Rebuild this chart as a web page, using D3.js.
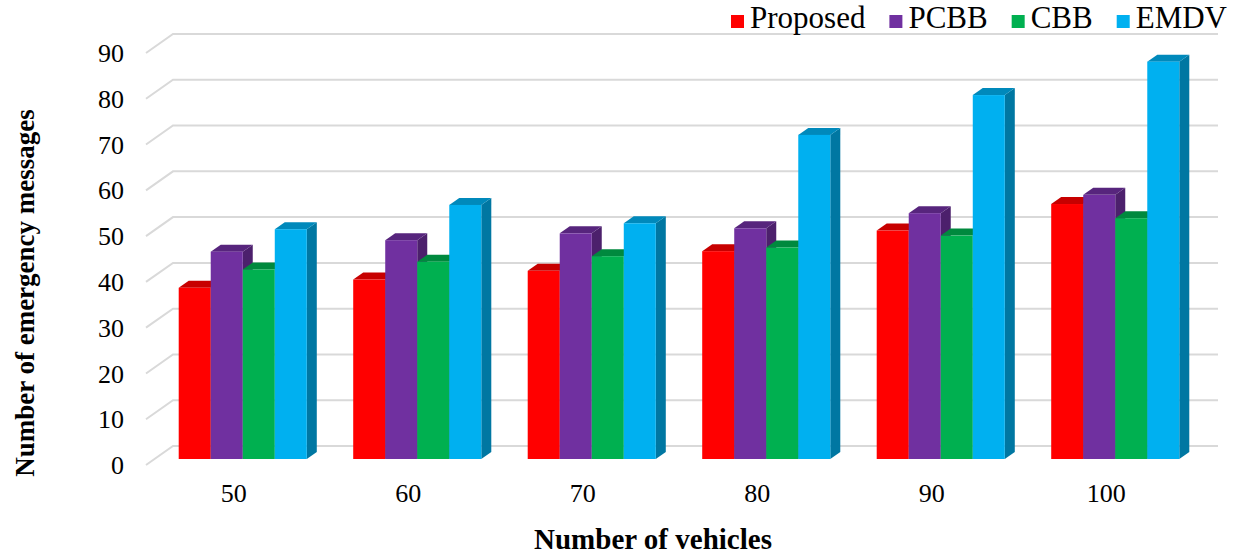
<!DOCTYPE html>
<html lang="en">
<head>
    <meta charset="UTF-8">
    <title>Number of emergency messages</title>
    <style>
        body {
            margin: 0;
            background: #fff;
        }
        svg text {
            font-family: 'Liberation Serif', 'Times New Roman', serif;
            fill: #000;
        }
    </style>
</head>
<body>
    <svg id="chart" width="1238" height="557"></svg>

    <script src="https://d3js.org/d3.v7.min.js"></script>
    <script>
        // data
        const vehicles = ["50", "60", "70", "80", "90", "100"];
        const seriesNames = ["Proposed", "PCBB", "CBB", "EMDV"];
        const proposed = [37.4, 39.2, 41.1, 45.4, 49.9, 55.7];
        const pcbb = [45.3, 47.8, 49.3, 50.4, 53.7, 57.7];
        const cbb = [41.4, 43.1, 44.3, 46.2, 48.8, 52.6];
        const emdv = [50.2, 55.5, 51.5, 70.8, 79.5, 86.8];
        const yTicks = [0, 10, 20, 30, 40, 50, 60, 70, 80, 90];
        const colors = ["#ff0000", "#7030a0", "#00b050", "#00b0f0"];

        const values = [proposed, pcbb, cbb, emdv];

        const svg = d3.select("#chart");

        // depth of the floor (front edge -> back wall) and of each bar
        const floorDx = 27, floorDy = -19;
        const barDx = 10, barDy = -7;
        const backX2 = 1218;

        // y of the bar front faces
        const y = d3.scaleLinear().domain([0, 90]).range([459, 47]);

        const x = d3.scaleBand()
            .domain(vehicles)
            .range([155.5, 1202.5])
            .paddingInner(0.266)
            .paddingOuter(0.133);

        const xs = d3.scaleBand()
            .domain(seriesNames)
            .range([0, x.bandwidth()]);

        // gridlines: short diagonal on the side wall, long line on the back wall
        const grid = svg.append("g");
        yTicks.forEach(t => {
            const yb = y(t) - 13;
            const xf = 146, yf = y(t) + 6;
            grid.append("polyline")
                .attr("points", `${xf},${yf} ${xf + floorDx},${yf + floorDy} ${backX2},${yb}`)
                .attr("fill", "none")
                .attr("stroke", "#d9d9d9")
                .attr("stroke-width", 2);
        });

        // y tick labels
        svg.append("g")
            .selectAll("text")
            .data(yTicks)
            .enter().append("text")
            .attr("x", 124)
            .attr("y", d => y(d) + 6)
            .attr("dy", "0.35em")
            .attr("text-anchor", "end")
            .style("font-size", "26px")
            .text(d => d);

        // x tick labels, on the floor front edge
        svg.append("g")
            .selectAll("text")
            .data(vehicles)
            .enter().append("text")
            .attr("x", d => x(d) + x.bandwidth() / 2 - 9)
            .attr("y", 502)
            .attr("text-anchor", "middle")
            .style("font-size", "26px")
            .text(d => d);

        // bars with top and side faces
        const bars = svg.append("g");
        vehicles.forEach((cat, i) => {
            seriesNames.forEach((name, s) => {
                const v = values[s][i];
                const x0 = x(cat) + xs(name);
                const w = xs.bandwidth();
                const y0 = y(0), y1 = y(v);
                const base = d3.color(colors[s]);
                const g = bars.append("g");
                // side
                g.append("polygon")
                    .attr("points", [
                        [x0 + w, y1], [x0 + w + barDx, y1 + barDy],
                        [x0 + w + barDx, y0 + barDy], [x0 + w, y0]
                    ].join(" "))
                    .attr("fill", base.darker(1.1));
                // top
                g.append("polygon")
                    .attr("points", [
                        [x0, y1], [x0 + barDx, y1 + barDy],
                        [x0 + w + barDx, y1 + barDy], [x0 + w, y1]
                    ].join(" "))
                    .attr("fill", base.darker(0.7));
                // front
                g.append("rect")
                    .attr("x", x0)
                    .attr("y", y1)
                    .attr("width", w)
                    .attr("height", y0 - y1)
                    .attr("fill", colors[s]);
            });
        });

        // axis titles
        svg.append("text")
            .attr("transform", "translate(34,293) rotate(-90)")
            .attr("text-anchor", "middle")
            .style("font-size", "27px")
            .style("font-weight", "bold")
            .text("Number of emergency messages");

        svg.append("text")
            .attr("x", 653)
            .attr("y", 549)
            .attr("text-anchor", "middle")
            .style("font-size", "29px")
            .style("font-weight", "bold")
            .text("Number of vehicles");

        // legend
        const legend = svg.append("g");
        let lx = 731;
        seriesNames.forEach((name, s) => {
            legend.append("rect")
                .attr("x", lx)
                .attr("y", 15)
                .attr("width", 13)
                .attr("height", 13)
                .attr("fill", colors[s]);
            const t = legend.append("text")
                .attr("x", lx + 19)
                .attr("y", 28)
                .style("font-size", "31px")
                .text(name);
            lx += 19 + t.node().getComputedTextLength() + 24;
        });
    </script>
</body>
</html>
